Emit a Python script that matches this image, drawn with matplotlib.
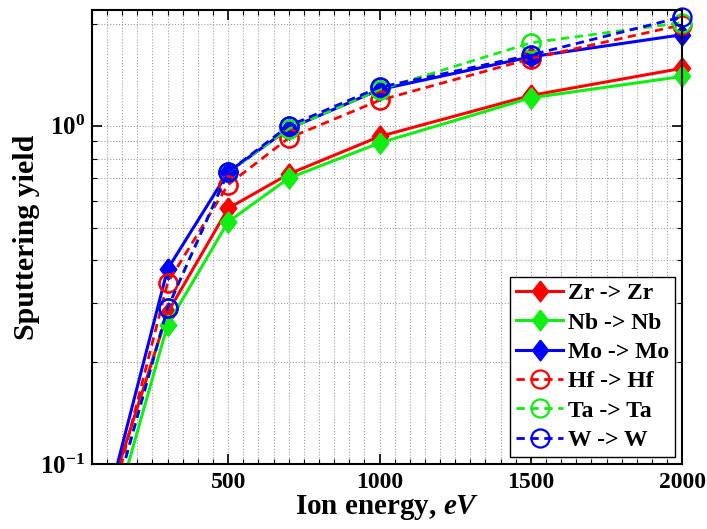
import numpy as np
import matplotlib
matplotlib.use('Agg')
import matplotlib.pyplot as plt
from matplotlib.ticker import FixedLocator, FixedFormatter, MultipleLocator, NullFormatter

plt.rcParams['font.family'] = 'Liberation Serif'
plt.rcParams['font.weight'] = 'bold'
plt.rcParams['mathtext.fontset'] = 'custom'
plt.rcParams['mathtext.rm'] = 'Liberation Serif:bold'
plt.rcParams['mathtext.bf'] = 'Liberation Serif:bold'
plt.rcParams['mathtext.it'] = 'Liberation Serif:italic:bold'

# ion energy (eV) and sputtering yields
energy = [100, 300, 500, 700, 1000, 1500, 2000]
zr = [0.077, 0.28, 0.57, 0.72, 0.93, 1.23, 1.48]
nb = [0.060, 0.258, 0.52, 0.70, 0.89, 1.21, 1.40]
mo = [0.076, 0.377, 0.73, 0.98, 1.28, 1.60, 1.86]
hf = [0.068, 0.343, 0.67, 0.92, 1.19, 1.58, 1.99]
ta = [0.066, 0.289, 0.73, 0.98, 1.28, 1.76, 2.02]
w = [0.066, 0.289, 0.73, 1.00, 1.30, 1.62, 2.10]

labels = ['Zr -> Zr', 'Nb -> Nb', 'Mo -> Mo', 'Hf -> Hf', 'Ta -> Ta', 'W -> W']
xticks = [500, 1000, 1500, 2000]
yticks = [0.1, 1.0]
ytick_labels = [r'$10^{-1}$', r'$10^{0}$']

red, green, blue = '#ff0000', '#11ee11', '#0000ff'
diamond = [(0, 1), (0.78, 0), (0, -1), (-0.78, 0), (0, 1)]

fig = plt.figure(figsize=(7.07, 5.29), dpi=100)
ax = fig.add_axes([0.130, 0.123, 0.835, 0.858])

series = [
    (zr, red, '-', diamond, True),
    (nb, green, '-', diamond, True),
    (mo, blue, '-', diamond, True),
    (hf, red, '--', 'o', False),
    (ta, green, '--', 'o', False),
    (w, blue, '--', 'o', False),
]
handles = []
for (vals, col, ls, mk, filled), lab in zip(series, labels):
    if filled:
        st = dict(marker=mk, ms=15, mfc=col, mec=col)
        line_st = dict(ls=ls, lw=2.2)
    else:
        st = dict(marker=mk, ms=13, mfc='none', mec=col, mew=1.6)
        line_st = dict(ls=ls, lw=2.0, dashes=(3, 2))
    h, = ax.plot(energy, vals, color=col, label=lab, **line_st, **st)
    # markers are drawn past the frame, as in the original
    ax.plot(energy, vals, ls='none', markevery=slice(1, None), clip_on=False, **st)
    handles.append(h)

ax.set_yscale('log')
ax.set_xlim(50, 2000)
ax.set_ylim(0.1, 2.2)

ax.xaxis.set_major_locator(FixedLocator(xticks))
ax.xaxis.set_minor_locator(MultipleLocator(50))
ax.yaxis.set_major_locator(FixedLocator(yticks))
ax.yaxis.set_major_formatter(FixedFormatter(ytick_labels))
ax.yaxis.set_minor_locator(FixedLocator([0.2, 0.3, 0.4, 0.5, 0.6, 0.7, 0.8, 0.9, 2.0]))
ax.yaxis.set_minor_formatter(NullFormatter())

ax.grid(True, which='both', ls=':', color='#a0a0a0', lw=0.8)
ax.tick_params(which='both', direction='in', top=True, right=True)
ax.tick_params(axis='x', labelsize=17, pad=6)
ax.tick_params(axis='y', labelsize=18, pad=5)
ax.tick_params(which='major', length=7, width=1.2)
ax.tick_params(which='minor', length=3.5, width=0.8)
for s in ax.spines.values():
    s.set_linewidth(1.5)

ax.set_xlabel(r'Ion energy, $\mathit{eV}$', fontsize=21, fontweight='bold', labelpad=0)
ax.set_ylabel('Sputtering yield', fontsize=21.5, fontweight='bold', labelpad=0)

leg = ax.legend(handles=handles, loc='lower right', fontsize=17, handlelength=2.0,
                labelspacing=0.33, borderaxespad=0.3, fancybox=False, framealpha=1,
                edgecolor='black', handletextpad=0.2, borderpad=0.25)
leg.get_frame().set_linewidth(1.0)
leg.set_zorder(5)

fig.savefig('out.png', dpi=100)
